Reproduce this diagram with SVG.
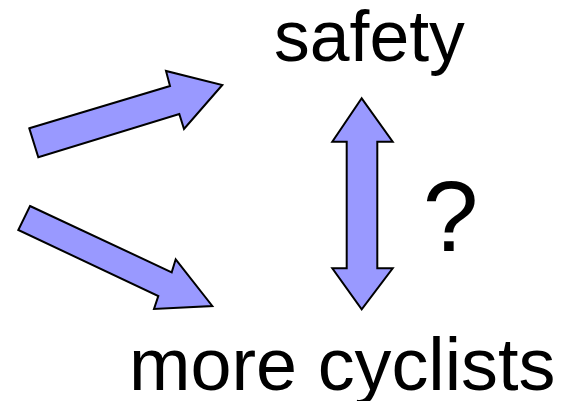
<svg xmlns="http://www.w3.org/2000/svg" width="576" height="401" viewBox="0 0 576 401">
<style>
.arrow{fill:#9999ff;stroke:#000;stroke-width:2;stroke-linejoin:miter}
.lbl{font-family:"Liberation Sans",Arial,sans-serif;fill:#000}
</style>
<rect width="576" height="401" fill="#fff"/>
<g id="node-safety"><text class="lbl" x="274" y="61" font-size="71.5">safety</text></g>
<g id="node-cyclists"><text class="lbl" x="129" y="390" font-size="73.8">more cyclists</text></g>
<g id="node-question"><text class="lbl" x="450.5" y="251" font-size="100" text-anchor="middle">?</text></g>
<g id="connectors">
<polygon class="arrow" points="29.3,128.3 170,86 166,71 222.3,85 184,129 179.3,114 38.3,157.3"/>
<polygon class="arrow" points="30,206 171.7,272.3 175.7,259.3 212.3,306 154,309 158.3,296 18.3,230"/>
<polygon class="arrow" points="361.7,98.3 392.7,141.7 377.3,141.7 377.3,268.3 392.7,268.3 361.7,309.3 332.3,268.3 346.7,268.3 346.7,141.7 332.3,141.7"/>
</g>
</svg>
